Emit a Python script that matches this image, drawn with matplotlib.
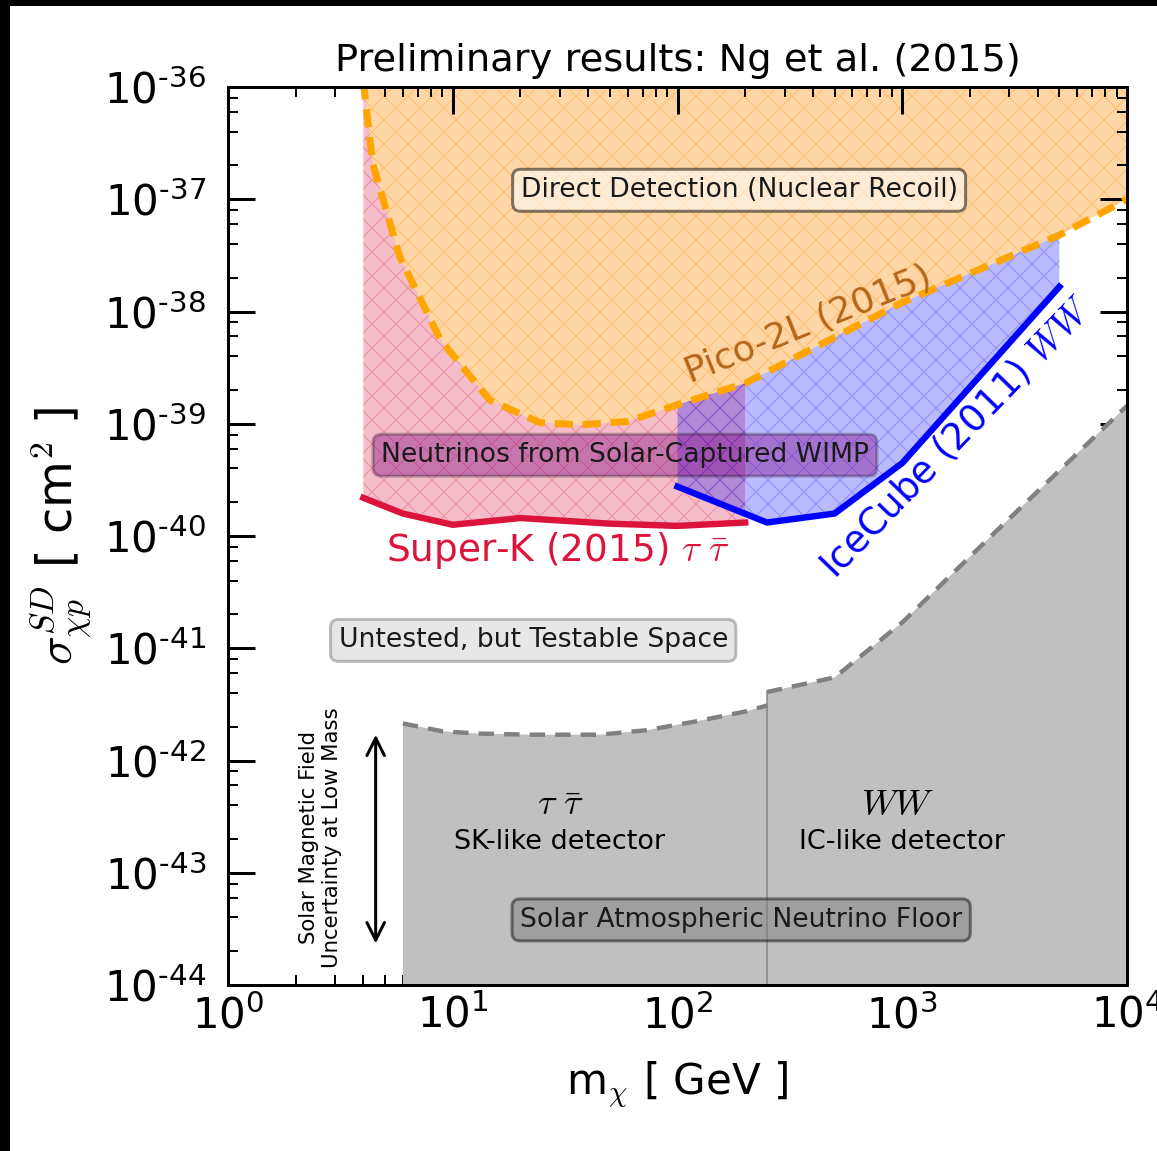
import numpy as np
import matplotlib
matplotlib.use("Agg")
import matplotlib.pyplot as plt
from matplotlib.patches import Rectangle
from matplotlib.ticker import LogLocator, FuncFormatter, NullFormatter

plt.rcParams["mathtext.fontset"] = "cm"
plt.rcParams["hatch.linewidth"] = 0.6

# Pico-2L (2015) spin-dependent limit (log10 of cm^2)
pico_mass = [4.0, 4.4, 5.8, 8.8, 14.6, 24.4, 36.8, 60, 100, 200, 1000, 5000, 10000]
pico_logsigma = [-35.95, -36.68, -37.51, -38.25, -38.79, -38.99, -39.01, -38.98,
                 -38.83, -38.64, -37.92, -37.32, -37.0]

# Super-K (2015) tau tau-bar limit
sk_mass = [4, 6, 10, 20, 50, 100, 200]
sk_logsigma = [-39.66, -39.80, -39.90, -39.84, -39.89, -39.91, -39.88]

# IceCube (2011) WW limit
ic_mass = [100, 250, 500, 1000, 5000]
ic_logsigma = [-39.56, -39.88, -39.80, -39.35, -37.78]

# solar atmospheric neutrino floor, two channels
floor_tau_mass = [6, 9, 13, 22, 45, 73, 122, 204, 250]
floor_tau_logsigma = [-41.67, -41.74, -41.76, -41.77, -41.77, -41.73, -41.65, -41.56, -41.51]
floor_ww_mass = [250, 500, 1000, 2640, 10000]
floor_ww_logsigma = [-41.39, -41.26, -40.77, -39.95, -38.84]

pico = 10.0 ** np.array(pico_logsigma)
sk = 10.0 ** np.array(sk_logsigma)
ic = 10.0 ** np.array(ic_logsigma)
floor_tau = 10.0 ** np.array(floor_tau_logsigma)
floor_ww = 10.0 ** np.array(floor_ww_logsigma)

XMIN, XMAX = 1.0, 1e4
YMIN, YMAX = 1e-44, 1e-36


def loginterp(m, xs, logys):
    # interpolate a curve in log-log space
    return 10.0 ** np.interp(np.log10(m), np.log10(xs), logys)


def pow10_label(v, pos):
    e = int(round(np.log10(v)))
    sign = "\u2010" if e < 0 else ""
    return r"$\mathregular{10^{%s%d}}$" % (sign, abs(e))


fig = plt.figure(figsize=(1157 / 144, 1151 / 144), dpi=144)
fig.patch.set_facecolor("black")
fig.add_artist(Rectangle((10 / 1157, 0), 1, 1 - 6 / 1151, transform=fig.transFigure,
                         facecolor="white", edgecolor="none", zorder=-10))
ax = fig.add_axes([228 / 1157, 166 / 1151, 899 / 1157, 898 / 1151])
ax.set_xscale("log")
ax.set_yscale("log")
ax.set_xlim(XMIN, XMAX)
ax.set_ylim(YMIN, YMAX)

# Direct detection region above Pico
ax.fill_between(pico_mass, pico, YMAX, facecolor=(1.0, 0.55, 0.0, 0.35),
                edgecolor=(1.0, 0.6, 0.1, 0.35), hatch="xx", linewidth=0, zorder=1)

# Super-K excluded region (between SK and Pico)
m_sk = np.logspace(np.log10(sk_mass[0]), np.log10(sk_mass[-1]), 300)
ax.fill_between(m_sk, loginterp(m_sk, sk_mass, sk_logsigma),
                loginterp(m_sk, pico_mass, pico_logsigma),
                facecolor=(0.86, 0.08, 0.24, 0.28), edgecolor=(0.86, 0.08, 0.24, 0.25),
                hatch="xx", linewidth=0, zorder=1)

# IceCube excluded region (between IceCube and Pico)
m_ic = np.logspace(np.log10(ic_mass[0]), np.log10(ic_mass[-1]), 300)
ax.fill_between(m_ic, loginterp(m_ic, ic_mass, ic_logsigma),
                loginterp(m_ic, pico_mass, pico_logsigma),
                facecolor=(0.0, 0.0, 1.0, 0.27), edgecolor=(0.0, 0.0, 1.0, 0.2),
                hatch="xx", linewidth=0, zorder=1)

# neutrino floor
ax.fill_between(floor_tau_mass, YMIN, floor_tau, facecolor="silver", linewidth=0, zorder=2)
ax.fill_between(floor_ww_mass, YMIN, floor_ww, facecolor="silver", linewidth=0, zorder=2)
ax.plot([floor_ww_mass[0], floor_ww_mass[0]], [YMIN, floor_ww[0]], color="gray",
        alpha=0.7, lw=1.0, zorder=2)
ax.plot(floor_tau_mass, floor_tau, color="gray", lw=2.2, dashes=(3.5, 2.3), zorder=3)
ax.plot(floor_ww_mass, floor_ww, color="gray", lw=2.2, dashes=(3.5, 2.3), zorder=3)

# limit curves
ax.plot(pico_mass, pico, color="orange", lw=3.5, dashes=(2.6, 1.4), zorder=4)
ax.plot(sk_mass, sk, color="crimson", lw=3.2, zorder=4)
ax.plot(ic_mass, ic, color="blue", lw=3.2, zorder=4)

# labels in the plot
box_fs = 13.3
ax.text(188, 10 ** -36.92, "Direct Detection (Nuclear Recoil)", fontsize=box_fs,
        ha="center", va="center", color="#1a1a1a", zorder=6,
        bbox=dict(boxstyle="round,pad=0.3", facecolor=(1, 1, 1, 0.55),
                  edgecolor=(0, 0, 0, 0.5), lw=1.5))
ax.text(58.4, 10 ** -39.28, "Neutrinos from Solar-Captured WIMP", fontsize=box_fs,
        ha="center", va="center", color="#1a1a1a", zorder=6,
        bbox=dict(boxstyle="round,pad=0.3", facecolor=(0.5, 0.0, 0.5, 0.38),
                  edgecolor=(0, 0, 0, 0.25), lw=1.5))
ax.text(22.8, 10 ** -40.93, "Untested, but Testable Space", fontsize=box_fs,
        ha="center", va="center", color="#1a1a1a", zorder=6,
        bbox=dict(boxstyle="round,pad=0.3", facecolor=(0.83, 0.83, 0.83, 0.55),
                  edgecolor=(0.5, 0.5, 0.5, 0.5), lw=1.5))
ax.text(192, 10 ** -43.42, "Solar Atmospheric Neutrino Floor", fontsize=box_fs,
        ha="center", va="center", color="#1a1a1a", zorder=6,
        bbox=dict(boxstyle="round,pad=0.3", facecolor=(0.5, 0.5, 0.5, 0.5),
                  edgecolor=(0, 0, 0, 0.45), lw=1.5))

ax.text(29.4, 10 ** -40.13, r"Super-K (2015) $\tau\ \bar{\tau}$", fontsize=18.7,
        color="crimson", ha="center", va="center", zorder=6)
ax.text(381, 10 ** -38.12, "Pico-2L (2015)", fontsize=18.2, color="#b4661a",
        rotation=22, ha="center", va="center", zorder=6)
ax.text(1740, 10 ** -39.12, r"IceCube (2011) $WW$", fontsize=18.6, color="blue",
        rotation=46, ha="center", va="center", zorder=6)

ax.text(30, 10 ** -42.40, r"$\tau\ \bar{\tau}$", fontsize=18, ha="center", va="center", zorder=6)
ax.text(30, 10 ** -42.73, "SK-like detector", fontsize=13.5, ha="center", va="center", zorder=6)
ax.text(957, 10 ** -42.40, r"$WW$", fontsize=18, ha="center", va="center", zorder=6)
ax.text(1000, 10 ** -42.73, "IC-like detector", fontsize=13.5, ha="center", va="center", zorder=6)

ax.annotate("", xy=(4.54, 10 ** -41.77), xytext=(4.54, 10 ** -43.63),
            arrowprops=dict(arrowstyle="<->", lw=1.5, color="k", mutation_scale=22,
                            shrinkA=0, shrinkB=0), zorder=6)
ax.text(2.57, 10 ** -42.69, "Solar Magnetic Field\nUncertainty at Low Mass", fontsize=10.6,
        rotation=90, ha="center", va="center", multialignment="center", zorder=6)

# axes styling
ax.set_title("Preliminary results: Ng et al. (2015)", fontsize=19.2, pad=8)
ax.set_xlabel(r"m$_\chi$ [ GeV ]", fontsize=21, labelpad=11)
ax.set_ylabel(r"$\sigma_{\chi p}^{SD}$ [ cm$^2$ ]", fontsize=24, labelpad=5)

ax.xaxis.set_major_locator(LogLocator(base=10, numticks=10))
ax.xaxis.set_minor_locator(LogLocator(base=10, subs=np.arange(2, 10), numticks=20))
ax.yaxis.set_major_locator(LogLocator(base=10, numticks=20))
ax.yaxis.set_minor_locator(LogLocator(base=10, subs=[2, 4, 6, 8], numticks=40))
ax.xaxis.set_major_formatter(FuncFormatter(pow10_label))
ax.yaxis.set_major_formatter(FuncFormatter(pow10_label))
ax.xaxis.set_minor_formatter(NullFormatter())
ax.yaxis.set_minor_formatter(NullFormatter())
ax.tick_params(which="both", direction="in", top=True, right=True)
ax.tick_params(which="major", length=13.5, width=1.5, labelsize=21)
ax.tick_params(which="minor", length=5, width=1.0)
ax.tick_params(axis="x", which="major", pad=5)
ax.tick_params(axis="y", which="major", pad=11)
for s in ax.spines.values():
    s.set_linewidth(1.5)
    s.set_zorder(7)

fig.savefig("out.png", dpi=144, facecolor=fig.get_facecolor())
